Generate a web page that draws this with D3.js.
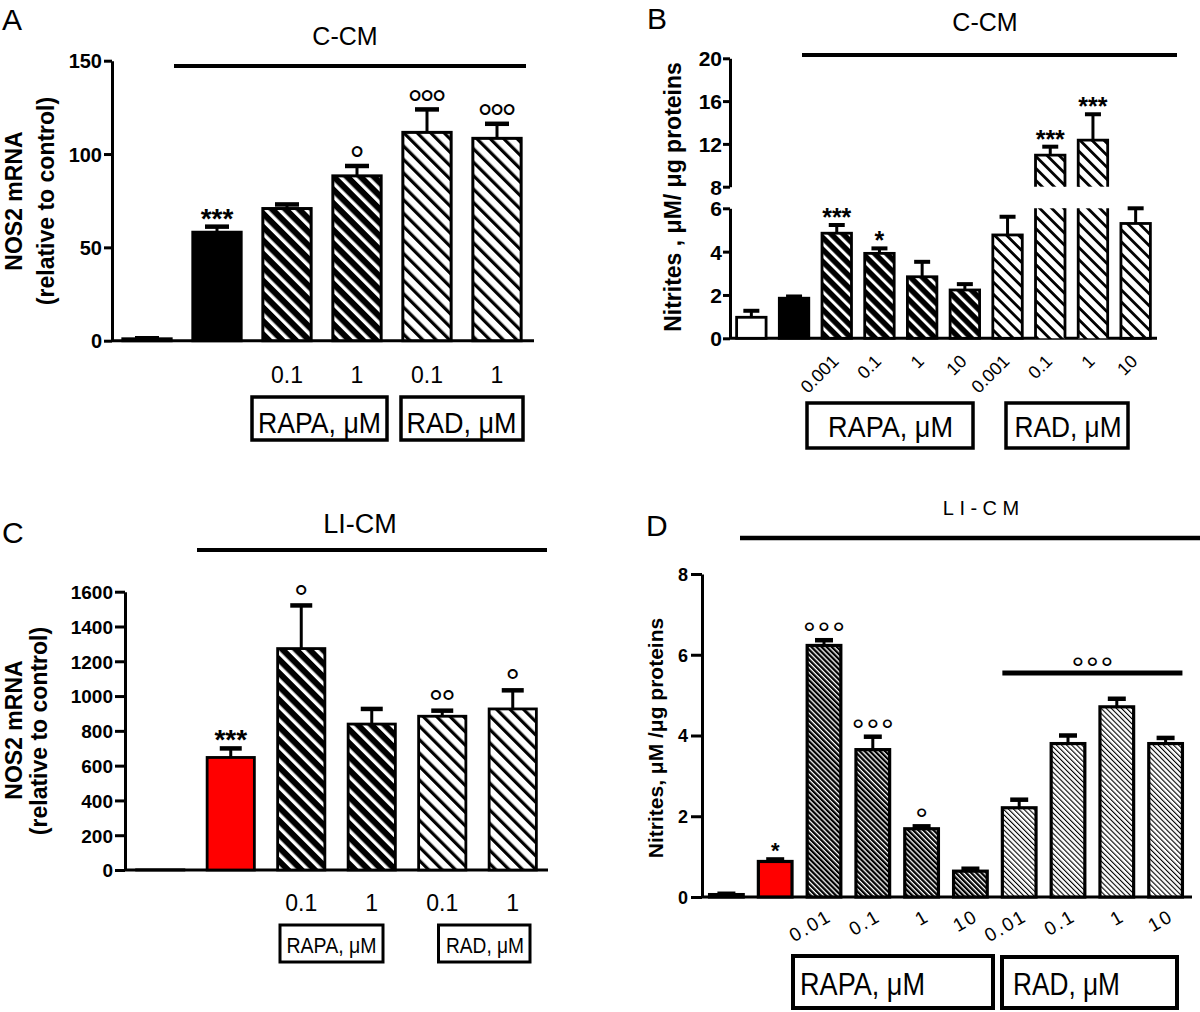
<!DOCTYPE html>
<html><head><meta charset="utf-8">
<script src="https://cdn.jsdelivr.net/npm/d3@7"></script>
<style>
body{margin:0;background:#fff}
svg{display:block;background:#fff}
text{font-family:"Liberation Sans",Arial,Helvetica,sans-serif;fill:#000}
</style>
</head><body>
<svg id="fig" width="1200" height="1012"></svg>
<script>
// ---------------- DATA ----------------
const catsA = ["Control","C-CM","RAPA 0.1","RAPA 1","RAD 0.1","RAD 1"];
const nosA  = [1, 58.1, 70.8, 88.3, 111.6, 108.4];
const semA  = [0.3, 3.0, 2.2, 5.3, 12.3, 7.8];
const doseA = ["", "", "0.1", "1", "0.1", "1"];
const sigA  = ["", "***", "", "°", "°°°", "°°°"];
const ticksA = [0, 50, 100, 150];

const catsB = ["Control","C-CM","RAPA 0.001","RAPA 0.1","RAPA 1","RAPA 10","RAD 0.001","RAD 0.1","RAD 1","RAD 10"];
const nitB  = [0.97, 1.85, 4.85, 3.92, 2.84, 2.23, 4.77, 10.96, 12.36, 5.3];
const semB  = [0.30, 0.08, 0.38, 0.23, 0.69, 0.27, 0.84, 0.78, 2.41, 0.70];
const doseB = ["", "", "0.001", "0.1", "1", "10", "0.001", "0.1", "1", "10"];
const sigB  = ["", "", "***", "*", "", "", "", "***", "***", ""];
const ticksBLow  = [0, 2, 4, 6];
const ticksBHigh = [8, 12, 16, 20];

const catsC = ["Control","LI-CM","RAPA 0.1","RAPA 1","RAD 0.1","RAD 1"];
const nosC  = [1, 647, 1273, 839, 884, 926];
const semC  = [0, 52, 248, 87, 32, 107];
const doseC = ["", "", "0.1", "1", "0.1", "1"];
const sigC  = ["", "***", "°", "", "°°", "°"];
const ticksC = [0, 200, 400, 600, 800, 1000, 1200, 1400, 1600];

const catsD = ["Control","LI-CM","RAPA 0.01","RAPA 0.1","RAPA 1","RAPA 10","RAD 0.01","RAD 0.1","RAD 1","RAD 10"];
const nitD  = [0.06, 0.88, 6.23, 3.65, 1.69, 0.64, 2.21, 3.80, 4.71, 3.80];
const semD  = [0.02, 0.05, 0.13, 0.32, 0.06, 0.06, 0.20, 0.20, 0.20, 0.14];
const doseD = ["", "", "0.01", "0.1", "1", "10", "0.01", "0.1", "1", "10"];
const sigD  = ["", "*", "°°°", "°°°", "°", "", "", "", "", ""];
const ticksD = [0, 2, 4, 6, 8];
const bracketD = {from: "RAD 0.01", to: "RAD 10", level: 5.55, sig: "°°°"};

const groupNames = ["RAPA, μM", "RAD, μM"];
const mediaNames = ["C-CM", "C-CM", "LI-CM", "LI-CM"];
const panelLetters = ["A", "B", "C", "D"];
const yTitleMRNA = ["NOS2 mRNA", "(relative to control)"];
const yTitleB = "Nitrites , μM/ μg proteins";
const yTitleD = "Nitrites,  μM /μg proteins";

// ---------------- DRAWING ----------------
const svg = d3.select("#fig");
const defs = svg.append("defs");
function hatch(id, period, lineW, bg, fg) {
  const p = defs.append("pattern").attr("id", id).attr("patternUnits", "userSpaceOnUse")
    .attr("width", period).attr("height", period).attr("patternTransform", "rotate(-45)");
  p.append("rect").attr("width", period).attr("height", period).attr("fill", bg);
  p.append("rect").attr("width", lineW).attr("height", period).attr("fill", fg);
}
hatch("rapaL", 9.5, 3.4, "#000", "#fff");
hatch("radL", 9.5, 3.2, "#fff", "#000");
hatch("rapaB", 8.5, 3.0, "#000", "#fff");
hatch("radB", 8.5, 2.8, "#fff", "#000");
hatch("rapaD", 3.6, 2.3, "#fff", "#000");
hatch("radD", 3.6, 1.1, "#fff", "#000");

function kind(c) {
  if (c === "Control") return "ctrl";
  if (c.startsWith("RAPA")) return "rapa";
  if (c.startsWith("RAD")) return "rad";
  return "cm";
}

function drawPanel(o) {
  const g = svg.append("g");
  const x = d3.scaleBand().domain(o.cats).range(o.xr).paddingInner(o.pad).paddingOuter(o.pad / 2);
  const bw = x.bandwidth();
  const y0 = o.y(0);

  // y axes
  o.yAxes.forEach(a => {
    const ax = g.append("g").attr("transform", `translate(${o.xr[0]},0)`)
      .call(d3.axisLeft(a.scale).tickValues(a.ticks).tickFormat(d3.format("d"))
        .tickSize(o.tickLen).tickSizeOuter(0).tickPadding(o.tickPad));
    ax.attr("font-family", null).attr("font-size", null);
    ax.select(".domain").attr("stroke", "#000").attr("stroke-width", o.axW);
    ax.selectAll(".tick line").attr("stroke", "#000").attr("stroke-width", o.axW);
    ax.selectAll(".tick text").style("font-size", o.tickFs + "px").style("font-weight", "bold").attr("dy", "0.36em");
  });

  // x axis
  const xa = g.append("g").attr("transform", `translate(0,${y0})`)
    .call(d3.axisBottom(x).tickSize(0).tickSizeOuter(0).tickFormat((d, i) => o.dose[i]));
  xa.attr("font-family", null).attr("font-size", null);
  xa.select(".domain").attr("stroke", "#000").attr("stroke-width", o.axW).attr("d", `M${o.xr[0]},0H${o.xEnd}`);
  const lt = xa.selectAll(".tick text").style("font-size", o.doseFs + "px").attr("dy", 0);
  if (o.rot) {
    lt.attr("x", 0).attr("y", 0).attr("text-anchor", "end")
      .style("letter-spacing", (o.doseLs || 0) + "px")
      .attr("transform", `translate(${o.rot.dx},${o.rot.dy}) rotate(${o.rot.a})`);
  } else {
    lt.attr("y", o.doseY);
  }

  // bars
  o.cats.forEach((c, i) => {
    const v = o.vals[i], e = o.sems[i], k = kind(c);
    const fill = k === "ctrl" ? "#fff" : k === "cm" ? o.cmFill : k === "rapa" ? `url(#${o.rapaPat})` : `url(#${o.radPat})`;
    const bx = x(c);
    if (o.brk && v > o.brk[0]) {
      const yl = o.y(o.brk[0]), yh = o.y(o.brk[1]), yv = o.y(v);
      g.append("rect").attr("x", bx).attr("y", yl).attr("width", bw).attr("height", y0 - yl).attr("fill", fill);
      g.append("path").attr("d", `M${bx},${y0}V${yl}M${bx + bw},${yl}V${y0}`)
        .attr("fill", "none").attr("stroke", "#000").attr("stroke-width", o.barW);
      g.append("rect").attr("x", bx).attr("y", yv).attr("width", bw).attr("height", yh - yv).attr("fill", fill);
      g.append("path").attr("d", `M${bx},${yh}V${yv}H${bx + bw}V${yh}`)
        .attr("fill", "none").attr("stroke", "#000").attr("stroke-width", o.barW).attr("stroke-linejoin", "miter");
    } else {
      const yv = o.y(v);
      g.append("rect").attr("x", bx).attr("y", yv).attr("width", bw).attr("height", Math.max(0, y0 - yv))
        .attr("fill", fill).attr("stroke", "#000").attr("stroke-width", o.barW);
    }
    const cx = bx + bw / 2;
    const ye = o.y(v + e);
    if (e > 0) {
      g.append("line").attr("x1", cx).attr("x2", cx).attr("y1", o.y(v)).attr("y2", ye)
        .attr("stroke", "#000").attr("stroke-width", 3);
      g.append("line").attr("x1", cx - o.capW / 2).attr("x2", cx + o.capW / 2).attr("y1", ye).attr("y2", ye)
        .attr("stroke", "#000").attr("stroke-width", o.capSW);
    }
    const s = o.sig[i];
    if (s) {
      const star = s.includes("*");
      const fs = star ? o.starFs : o.degFs;
      const ls = star ? 0 : (o.degLs || 0);
      g.append("text").attr("x", cx + ls / 2).attr("y", ye - o.sigGap + 0.56 * fs)
        .attr("text-anchor", "middle").style("font-size", fs + "px")
        .style("font-weight", star ? "bold" : "normal").style("letter-spacing", ls + "px").text(s);
    }
  });

  // bracket
  if (o.bracket) {
    const b = o.bracket;
    const x1 = x(b.from), x2 = x(b.to) + bw, yb = o.y(b.level);
    g.append("line").attr("x1", x1).attr("x2", x2).attr("y1", yb).attr("y2", yb)
      .attr("stroke", "#000").attr("stroke-width", 5);
    const ls = o.degLs || 0;
    g.append("text").attr("x", (x1 + x2) / 2 + ls / 2).attr("y", yb - 12 + 0.56 * o.degFs)
      .attr("text-anchor", "middle").style("font-size", o.degFs + "px").style("letter-spacing", ls + "px").text(b.sig);
  }

  // media line and title
  g.append("line").attr("x1", o.media.x1).attr("x2", o.media.x2).attr("y1", o.media.y).attr("y2", o.media.y)
    .attr("stroke", "#000").attr("stroke-width", o.media.w);
  g.append("text").attr("x", o.media.tx + (o.media.ls || 0) / 2).attr("y", o.media.ty).attr("text-anchor", "middle")
    .style("font-size", o.media.fs + "px").style("letter-spacing", (o.media.ls || 0) + "px").text(o.media.text);

  // panel letter
  g.append("text").attr("x", o.letter.x).attr("y", o.letter.y).style("font-size", "30px").text(o.letter.text);

  // y titles
  o.yTitles.forEach(t => {
    g.append("text").attr("transform", `translate(${t.x},${t.y}) rotate(-90)`).attr("text-anchor", "middle")
      .style("font-size", t.fs + "px").style("font-weight", "bold").text(t.text);
  });

  // group boxes
  o.boxes.forEach(b => {
    g.append("rect").attr("x", b.x).attr("y", b.y).attr("width", b.w).attr("height", b.h)
      .attr("fill", "#fff").attr("stroke", "#000").attr("stroke-width", b.sw);
    g.append("text").attr("x", b.tx).attr("y", b.ty).attr("text-anchor", b.anchor || "middle")
      .style("font-size", b.fs + "px").attr("textLength", b.tl).attr("lengthAdjust", "spacingAndGlyphs").text(b.text);
  });
}

// ---- Panel A ----
const yA = d3.scaleLinear().domain([0, 150]).range([340.7, 60.7]);
drawPanel({
  cats: catsA, vals: nosA, sems: semA, dose: doseA, sig: sigA,
  xr: [112, 532], xEnd: 534, pad: 0.31, y: yA, yAxes: [{scale: yA, ticks: ticksA}],
  tickLen: 8, tickPad: 2, tickFs: 20, axW: 3, doseFs: 23, doseY: 42.5,
  cmFill: "#000", rapaPat: "rapaL", radPat: "radL", barW: 3, capW: 24, capSW: 4.5,
  starFs: 28, degFs: 38, degLs: -3.2, sigGap: 14,
  media: {x1: 174, x2: 526, y: 66, w: 4, text: mediaNames[0], tx: 345, ty: 45, fs: 25},
  letter: {text: panelLetters[0], x: 2, y: 30},
  yTitles: [{text: yTitleMRNA[0], x: 21.5, y: 201, fs: 23}, {text: yTitleMRNA[1], x: 54, y: 201, fs: 23}],
  boxes: [
    {x: 252, y: 397, w: 135, h: 43, sw: 3.5, text: groupNames[0], tx: 319.5, ty: 432.5, fs: 29, tl: 123},
    {x: 401, y: 397, w: 122, h: 43, sw: 3.5, text: groupNames[1], tx: 461.5, ty: 432.5, fs: 29, tl: 110}
  ]
});

// ---- Panel B (broken axis) ----
const yBLow = d3.scaleLinear().domain([0, 6]).range([338.3, 208.3]);
const yBHigh = d3.scaleLinear().domain([8, 20]).range([186.7, 58.3]);
const yB = v => v <= 6 ? yBLow(v) : yBHigh(v);
drawPanel({
  cats: catsB, vals: nitB, sems: semB, dose: doseB, sig: sigB,
  xr: [730, 1157], xEnd: 1157, pad: 0.31, y: yB, brk: [6, 8],
  yAxes: [{scale: yBLow, ticks: ticksBLow}, {scale: yBHigh, ticks: ticksBHigh}],
  tickLen: 7, tickPad: 1, tickFs: 21, axW: 3, doseFs: 18,
  rot: {dx: 3, dy: 24, a: -45},
  cmFill: "#000", rapaPat: "rapaB", radPat: "radB", barW: 2.8, capW: 16, capSW: 4,
  starFs: 25, degFs: 34, sigGap: 13,
  media: {x1: 802, x2: 1177, y: 55, w: 4, text: mediaNames[1], tx: 985, ty: 31, fs: 25},
  letter: {text: panelLetters[1], x: 647, y: 29},
  yTitles: [{text: yTitleB, x: 681, y: 197, fs: 23}],
  boxes: [
    {x: 807, y: 403, w: 166, h: 45, sw: 3.5, text: groupNames[0], tx: 890.5, ty: 437, fs: 29, tl: 125},
    {x: 1006, y: 403, w: 122, h: 45, sw: 3.5, text: groupNames[1], tx: 1068, ty: 437, fs: 29, tl: 107}
  ]
});

// ---- Panel C ----
const yC = d3.scaleLinear().domain([0, 1600]).range([870, 591.7]);
drawPanel({
  cats: catsC, vals: nosC, sems: semC, dose: doseC, sig: sigC,
  xr: [125, 548], xEnd: 548, pad: 0.33, y: yC, yAxes: [{scale: yC, ticks: ticksC}],
  tickLen: 10, tickPad: 2, tickFs: 19, axW: 3, doseFs: 23, doseY: 40.7,
  cmFill: "#ff0000", rapaPat: "rapaL", radPat: "radL", barW: 2.8, capW: 22, capSW: 4.5,
  starFs: 28, degFs: 36, degLs: -2, sigGap: 15,
  media: {x1: 197, x2: 547, y: 550, w: 4, text: mediaNames[2], tx: 360, ty: 533, fs: 27},
  letter: {text: panelLetters[2], x: 2, y: 543},
  yTitles: [{text: yTitleMRNA[0], x: 22, y: 730, fs: 23}, {text: yTitleMRNA[1], x: 47, y: 731, fs: 23}],
  boxes: [
    {x: 280, y: 925, w: 103, h: 37, sw: 3, text: groupNames[0], tx: 331.5, ty: 953, fs: 22, tl: 90},
    {x: 438.5, y: 925, w: 91.5, h: 37, sw: 3, text: groupNames[1], tx: 485, ty: 953, fs: 22, tl: 78}
  ]
});

// ---- Panel D ----
const yD = d3.scaleLinear().domain([0, 8]).range([897, 574]);
drawPanel({
  cats: catsD, vals: nitD, sems: semD, dose: doseD, sig: sigD, bracket: bracketD,
  xr: [702, 1190], xEnd: 1192, pad: 0.31, y: yD, yAxes: [{scale: yD, ticks: ticksD}],
  tickLen: 11, tickPad: 3, tickFs: 18, axW: 3, doseFs: 19, doseLs: 2,
  rot: {dx: 9, dy: 23, a: -30},
  cmFill: "#ff0000", rapaPat: "rapaD", radPat: "radD", barW: 3.2, capW: 18, capSW: 4.5,
  starFs: 22, degFs: 32, degLs: 1.8, sigGap: 14,
  media: {x1: 740, x2: 1200, y: 538, w: 4.5, text: mediaNames[3], tx: 981, ty: 515, fs: 20, ls: 5.5},
  letter: {text: panelLetters[3], x: 646, y: 536},
  yTitles: [{text: yTitleD, x: 663, y: 738, fs: 21}],
  boxes: [
    {x: 793, y: 956, w: 200, h: 52, sw: 4, text: groupNames[0], tx: 800, ty: 995, fs: 31, tl: 125, anchor: "start"},
    {x: 1002, y: 957, w: 175, h: 51, sw: 4, text: groupNames[1], tx: 1013, ty: 995, fs: 31, tl: 107, anchor: "start"}
  ]
});
</script>
</body></html>
